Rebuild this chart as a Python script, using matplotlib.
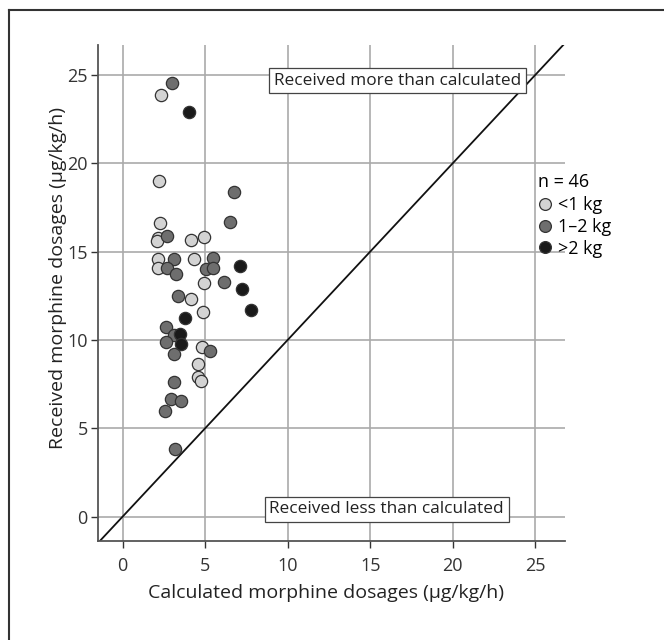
import matplotlib.pyplot as plt
from matplotlib.lines import Line2D

# Calculated (x) vs received (y) morphine dosages, ug/kg/h, by birth weight group
light_x = [2.34, 2.23, 2.29, 2.13, 2.09, 4.16, 4.94, 2.17, 4.31, 2.13,
           4.94, 4.16, 4.86, 4.82, 4.59, 4.55, 4.77]
light_y = [23.85, 19.0, 16.63, 15.75, 15.61, 15.63, 15.82, 14.59, 14.56, 14.08,
           13.22, 12.33, 11.56, 9.58, 8.62, 7.9, 7.69]

mid_x = [3.02, 6.75, 6.48, 2.70, 3.13, 5.45, 2.72, 3.25, 5.04, 5.49, 6.13,
         3.37, 2.66, 3.13, 2.64, 5.32, 3.09, 3.09, 2.95, 3.51, 2.58, 3.19]
mid_y = [24.55, 18.35, 16.65, 15.88, 14.56, 14.63, 14.08, 13.71, 14.01, 14.05, 13.29,
         12.5, 10.75, 10.28, 9.86, 9.37, 9.18, 7.62, 6.67, 6.56, 6.0, 3.83]

dark_x = [4.0, 7.09, 7.26, 7.78, 3.78, 3.5, 3.57]
dark_y = [22.9, 14.18, 12.86, 11.69, 11.22, 10.33, 9.75]

ticks = [0, 5, 10, 15, 20, 25]

plt.rcParams['font.family'] = ['Open Sans', 'DejaVu Sans']

fig = plt.figure(figsize=(6.64, 6.40), dpi=100, facecolor='white')
ax = fig.add_axes([0.148, 0.154, 0.703, 0.776])

ax.set_xlim(-1.47, 26.8)
ax.set_ylim(-1.4, 26.7)
ax.set_xticks(ticks)
ax.set_yticks(ticks)
ax.grid(True, color='#aaaaaa', linewidth=1.2)
ax.set_axisbelow(True)

for side in ['top', 'right']:
    ax.spines[side].set_visible(False)
for side in ['left', 'bottom']:
    ax.spines[side].set_color('#555555')
    ax.spines[side].set_linewidth(1.3)
ax.tick_params(colors='#333333', labelsize=13, length=5, width=1.0)
ax.tick_params(axis='x', pad=6)
ax.tick_params(axis='y', pad=2.5)

# line of identity
ax.plot([-1.47, 26.8], [-1.47, 26.8], color='#111111', linewidth=1.3, zorder=2)

edge = '#333333'
ax.scatter(light_x, light_y, s=78, color='#d3d3d3', edgecolor=edge, linewidth=0.9, zorder=3)
ax.scatter(mid_x, mid_y, s=78, color='#6e6e6e', edgecolor=edge, linewidth=0.9, zorder=3)
ax.scatter(dark_x, dark_y, s=78, color='#1a1a1a', edgecolor=edge, linewidth=0.9, zorder=3)

box = dict(boxstyle='square,pad=0.26', facecolor='white', edgecolor='#444444', linewidth=0.9)
ax.text(16.65, 24.67, 'Received more than calculated', ha='center', va='center',
        fontsize=12.4, color='#222222', bbox=box, zorder=4)
ax.text(16.0, 0.41, 'Received less than calculated', ha='center', va='center',
        fontsize=12.4, color='#222222', bbox=box, zorder=4)

ax.set_xlabel('Calculated morphine dosages (µg/kg/h)', fontsize=14, color='#222222')
ax.set_ylabel('Received morphine dosages (µg/kg/h)', fontsize=14, color='#222222')
ax.xaxis.set_label_coords(0.487, -0.085)
ax.yaxis.set_label_coords(-0.068, 0.53)

handles = [
    Line2D([], [], linestyle='none', marker='o', markersize=8.5, markerfacecolor=c,
           markeredgecolor=edge, markeredgewidth=0.9)
    for c in ['#d3d3d3', '#6e6e6e', '#1a1a1a']
]
leg = fig.legend(handles, ['<1 kg', '1–2 kg', '>2 kg'], title='n = 46',
                 loc='upper left', bbox_to_anchor=(0.81, 0.73), frameon=False,
                 fontsize=13, title_fontsize=13, handletextpad=0.3,
                 labelspacing=0.2, borderaxespad=0, borderpad=0,
                 handlelength=0.8)
leg._legend_box.align = 'left'
leg._legend_box.sep = 4

# partial frame of the original figure panel
fig.add_artist(Line2D([9 / 664, 9 / 664], [0, 1 - 10 / 640], color='#333333',
                      linewidth=1.5, transform=fig.transFigure))
fig.add_artist(Line2D([9 / 664, 1], [1 - 10 / 640, 1 - 10 / 640], color='#333333',
                      linewidth=1.5, transform=fig.transFigure))

fig.savefig('out.png', dpi=100, facecolor='white')
